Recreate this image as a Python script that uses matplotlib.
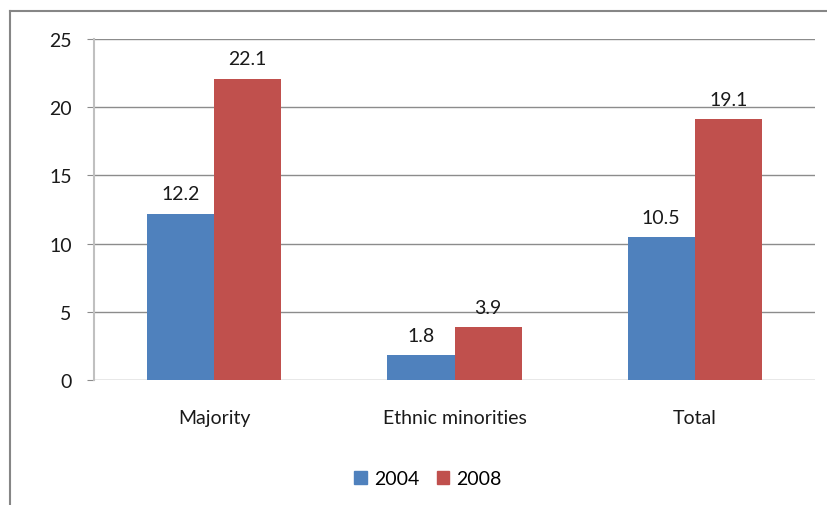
import matplotlib.pyplot as plt
import numpy as np
from matplotlib.lines import Line2D
from matplotlib.patches import Patch

categories = ['Majority', 'Ethnic minorities', 'Total']
years = ['2004', '2008']
values_2004 = [12.2, 1.8, 10.5]
values_2008 = [22.1, 3.9, 19.1]
colors = ['#4f81bd', '#c0504d']

plt.rcParams['font.family'] = ['Lato', 'DejaVu Sans']
fs = 14

fig = plt.figure(figsize=(8.27, 5.06), dpi=100)
ax = fig.add_axes([94 / 827, 1 - 381 / 506, (815 - 94) / 827, (381 - 40) / 506])

x = np.arange(len(categories))
w = 0.28
b1 = ax.bar(x - w / 2, values_2004, w, color=colors[0], label=years[0], zorder=3)
b2 = ax.bar(x + w / 2, values_2008, w, color=colors[1], label=years[1], zorder=3)

for bars in (b1, b2):
    for r in bars:
        ax.annotate(f'{r.get_height():.1f}', (r.get_x() + r.get_width() / 2, r.get_height()),
                    xytext=(0, 8), textcoords='offset points', ha='center', va='bottom',
                    fontsize=fs, color='#1a1a1a')

ax.set_xlim(-0.5, 2.5)
ax.set_ylim(0, 25)
ax.set_yticks(range(0, 26, 5))
ax.yaxis.grid(True, color='#8c8c8c', linewidth=1, zorder=0)
ax.set_axisbelow(True)
ax.set_xticks(x)
ax.set_xticklabels(categories)
for s in ['top', 'right', 'bottom']:
    ax.spines[s].set_visible(False)
ax.spines['left'].set_color('#c0c0c0')
ax.spines['left'].set_linewidth(1.5)
ax.tick_params(axis='y', length=5, color='#8c8c8c', labelsize=fs, pad=11, labelcolor='#1a1a1a')
ax.tick_params(axis='x', length=0, labelsize=fs, pad=21, labelcolor='#1a1a1a')

handles = [Patch(color=colors[0], label=years[0]), Patch(color=colors[1], label=years[1])]
fig.legend(handles=handles, loc='center', bbox_to_anchor=(428 / 827, 1 - 480 / 506), ncol=2,
           frameon=False, fontsize=fs, handlelength=0.65, handleheight=0.65,
           handletextpad=0.35, columnspacing=0.9)

# outer chart frame
fig.add_artist(Line2D([10 / 827, 1], [1 - 12 / 506] * 2, color='#868686', linewidth=1.5))
fig.add_artist(Line2D([10 / 827] * 2, [0, 1 - 12 / 506], color='#868686', linewidth=1.5))

fig.savefig('out.png', dpi=100)
